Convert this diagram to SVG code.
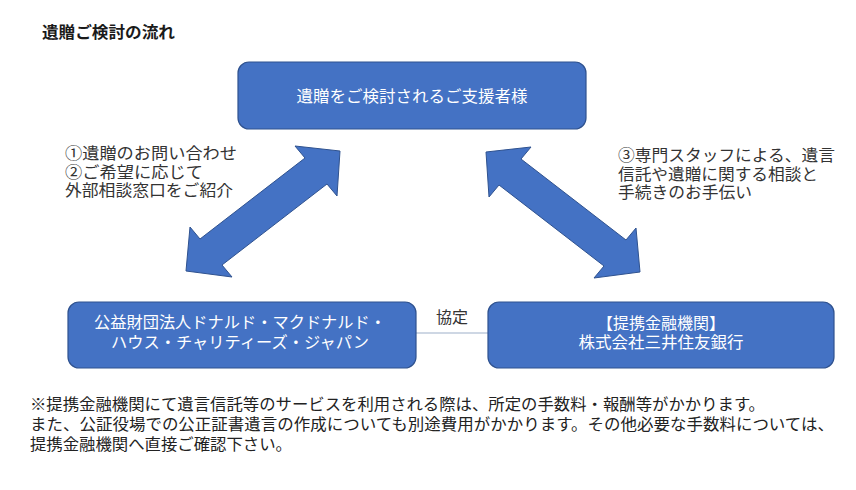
<svg xmlns="http://www.w3.org/2000/svg" width="856" height="490" viewBox="0 0 856 490">
<style>
.bg{fill:#ffffff}
.box{fill:#4472C4;stroke:#2F528F;stroke-width:1.2}
.arrow{fill:#4472C4;stroke:#2F528F;stroke-width:1}
.bt{font-family:"Liberation Sans","Noto Sans CJK JP",sans-serif;font-size:16px;fill:#ffffff;text-anchor:middle}
.lbl{font-family:"Liberation Sans","Noto Sans CJK JP",sans-serif;font-size:16px;fill:#333333}
.title{font-family:"Liberation Sans","Noto Sans CJK JP",sans-serif;font-size:16px;font-weight:bold;fill:#1a1a1a}
.note{font-family:"Liberation Sans","Noto Sans CJK JP",sans-serif;font-size:15.5px;fill:#222222}
.conn{stroke:#9DAFC9;stroke-width:1;fill:none}
</style>
<rect class="bg" x="0" y="0" width="856" height="490"/>
<text class="title" x="42" y="38" textLength="133" lengthAdjust="spacingAndGlyphs">遺贈ご検討の流れ</text>
<g id="connectors">
<line class="conn" x1="416" y1="333" x2="488" y2="333"/>
<text class="lbl" x="452" y="323" text-anchor="middle" font-size="15">協定</text>
<polygon class="arrow" points="186,271 190,227 200,239 305,158 295,146 340,151 337,196 327,184 222,265 232,277"/>
<polygon class="arrow" points="640,272 636,228 626,240 521,159 531,147 486,152 489,197 499,185 604,266 594,278"/>
</g>
<g id="node-donor">
<rect class="box" x="238" y="62" width="348" height="67" rx="11"/>
<text class="bt" x="412" y="102" textLength="231" lengthAdjust="spacingAndGlyphs">遺贈をご検討されるご支援者様</text>
</g>
<g id="node-foundation">
<rect class="box" x="68" y="302" width="348" height="66" rx="11"/>
<text class="bt"><tspan x="240" y="328" textLength="292" lengthAdjust="spacingAndGlyphs">公益財団法人ドナルド・マクドナルド・</tspan><tspan x="240" y="348" textLength="258" lengthAdjust="spacingAndGlyphs">ハウス・チャリティーズ・ジャパン</tspan></text>
</g>
<g id="node-bank">
<rect class="box" x="488" y="302" width="346" height="66" rx="11"/>
<text class="bt"><tspan x="661" y="329">【提携金融機関】</tspan><tspan x="661" y="348" textLength="165" lengthAdjust="spacingAndGlyphs">株式会社三井住友銀行</tspan></text>
</g>
<g id="label-left">
<text class="lbl"><tspan x="65" y="159" textLength="172" lengthAdjust="spacingAndGlyphs">①遺贈のお問い合わせ</tspan><tspan x="65" y="177.5" textLength="138" lengthAdjust="spacingAndGlyphs">②ご希望に応じて</tspan><tspan x="65" y="196" textLength="168" lengthAdjust="spacingAndGlyphs">外部相談窓口をご紹介</tspan></text>
</g>
<g id="label-right">
<text class="lbl"><tspan x="618" y="161" textLength="217" lengthAdjust="spacingAndGlyphs">③専門スタッフによる、遺言</tspan><tspan x="618" y="179.5" textLength="200" lengthAdjust="spacingAndGlyphs">信託や遺贈に関する相談と</tspan><tspan x="618" y="198" textLength="134" lengthAdjust="spacingAndGlyphs">手続きのお手伝い</tspan></text>
</g>
<g id="footnote">
<text class="note"><tspan x="30" y="410" textLength="735" lengthAdjust="spacingAndGlyphs">※提携金融機関にて遺言信託等のサービスを利用される際は、所定の手数料・報酬等がかかります。</tspan><tspan x="30" y="430" textLength="804" lengthAdjust="spacingAndGlyphs">また、公証役場での公正証書遺言の作成についても別途費用がかかります。その他必要な手数料については、</tspan><tspan x="30" y="450" textLength="262" lengthAdjust="spacingAndGlyphs">提携金融機関へ直接ご確認下さい。</tspan></text>
</g>
</svg>
